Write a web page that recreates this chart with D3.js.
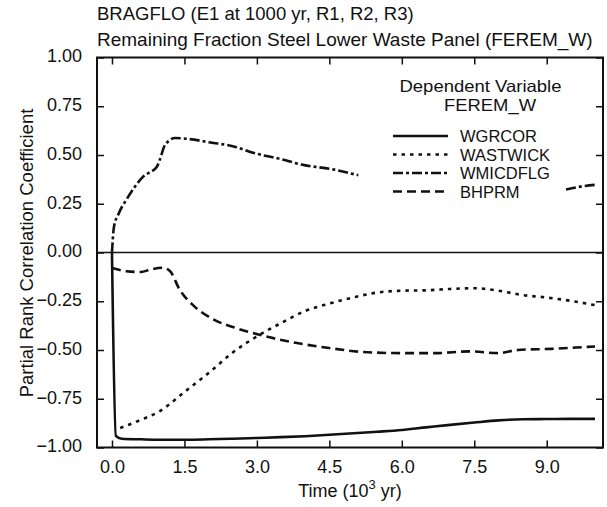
<!DOCTYPE html>
<html>
<head>
<meta charset="utf-8">
<script src="https://cdn.jsdelivr.net/npm/d3@7"></script>
<style>
    body { margin: 0; background: #fff; }
    text { font-family: "Liberation Sans", Arial, sans-serif; fill: #111; }
</style>
</head>
<body>
<div id="chart"></div>
<script>

// title lines and axis text
var titleLines = ["BRAGFLO (E1 at 1000 yr, R1, R2, R3)",
    "Remaining Fraction Steel Lower Waste Panel (FEREM_W)"];
var xTicks = [0, 1.5, 3.0, 4.5, 6.0, 7.5, 9.0];
var yTicks = [-1, -0.75, -0.5, -0.25, 0, 0.25, 0.5, 0.75, 1];
var legendHead = ["Dependent Variable", "FEREM_W"];
var seriesNames = ["WGRCOR", "WASTWICK", "WMICDFLG", "BHPRM"];

// time in 10^3 yr, value = PRCC
var timeWGRCOR = [0, 0.08, 0.2, 0.6, 1.0, 1.5, 2.0, 2.5, 3.0, 3.5, 4.0, 4.5, 5.0, 5.5, 6.0, 6.5, 7.0, 7.5, 8.0, 8.5, 9.0, 9.5, 10.0];
var valWGRCOR = [0, -0.94, -0.955, -0.958, -0.96, -0.96, -0.958, -0.955, -0.951, -0.947, -0.942, -0.935, -0.927, -0.919, -0.91, -0.897, -0.884, -0.872, -0.861, -0.855, -0.854, -0.853, -0.853];

var timeWASTWICK = [0.17, 0.6, 1.0, 1.5, 2.0, 2.5, 3.0, 3.5, 4.0, 4.5, 5.0, 5.5, 6.0, 6.5, 7.0, 7.5, 8.0, 8.5, 9.0, 9.5, 10.0];
var valWASTWICK = [-0.90, -0.858, -0.812, -0.715, -0.618, -0.513, -0.43, -0.362, -0.3, -0.262, -0.23, -0.205, -0.196, -0.194, -0.187, -0.183, -0.196, -0.218, -0.231, -0.248, -0.27];

// null = gap (curve hidden behind legend)
var timeWMICDFLG = [0, 0.04, 0.14, 0.31, 0.65, 0.93, 0.99, 1.1, 1.31, 1.55, 2.04, 2.52, 2.94, 3.5, 3.92, 4.6, 5.1, 7.2, 9.4, 9.75, 10.05];
var valWMICDFLG = [0, 0.13, 0.2, 0.275, 0.39, 0.44, 0.476, 0.552, 0.587, 0.583, 0.564, 0.544, 0.51, 0.479, 0.451, 0.425, 0.396, null, 0.323, 0.34, 0.348];

var timeBHPRM = [0, 0.3, 0.6, 0.8, 1.05, 1.2, 1.4, 1.7, 2.1, 2.6, 3.1, 3.8, 4.5, 5.2, 6.0, 6.7, 7.4, 8.0, 8.4, 9.1, 9.85, 10.0];
var valBHPRM = [-0.08, -0.096, -0.10, -0.087, -0.078, -0.095, -0.19, -0.275, -0.343, -0.39, -0.425, -0.463, -0.49, -0.51, -0.516, -0.516, -0.507, -0.516, -0.50, -0.494, -0.484, -0.482];


LineChart = function(_parentElement){
    this.parentElement = _parentElement;
    this.initVis();
}

LineChart.prototype.initVis = function() {
    var vis = this;

    vis.margin = {top: 57.5, right: 4, bottom: 59.5, left: 97};
    vis.width = 607 - vis.margin.left - vis.margin.right;
    vis.height = 507 - vis.margin.top - vis.margin.bottom;

    vis.svg = d3.select("#" + vis.parentElement).append("svg")
        .attr("width", 607)
        .attr("height", 507);

    vis.g = vis.svg.append("g")
        .attr("transform", "translate(" + vis.margin.left + "," + vis.margin.top + ")");

    vis.x = d3.scaleLinear()
        .domain([-0.31, 10.165])
        .range([0, vis.width]);

    vis.y = d3.scaleLinear()
        .domain([-1, 1])
        .range([vis.height, 0]);

    // titles
    vis.svg.selectAll(".title")
        .data(titleLines)
        .enter().append("text")
        .attr("class", "title")
        .attr("x", 97)
        .attr("y", function(d, i) { return 20 + i * 25.5; })
        .style("font-size", function(d, i) { return i == 0 ? "18.5px" : "19px"; })
        .text(function(d) { return d; });

    // axes, ticks pointing inward
    vis.g.append("g")
        .attr("class", "axis")
        .attr("transform", "translate(0," + vis.height + ")")
        .call(d3.axisBottom(vis.x).tickValues(xTicks).tickFormat(d3.format(".1f"))
            .tickSize(-7).tickPadding(13));

    vis.g.append("g")
        .attr("class", "axis")
        .call(d3.axisTop(vis.x).tickValues(xTicks).tickFormat("").tickSize(-7));

    vis.g.append("g")
        .attr("class", "axis")
        .call(d3.axisLeft(vis.y).tickValues(yTicks).tickFormat(d3.format(".2f"))
            .tickSize(-7).tickPadding(15));

    vis.g.append("g")
        .attr("class", "axis")
        .attr("transform", "translate(" + vis.width + ",0)")
        .call(d3.axisRight(vis.y).tickValues(yTicks).tickFormat("").tickSize(-7));

    vis.g.selectAll(".axis .domain").remove();
    vis.g.selectAll(".axis line").attr("stroke", "#111").attr("stroke-width", 1.5);
    vis.g.selectAll(".axis text")
        .style("font-size", "18px")
        .attr("font-family", null)
        .attr("fill", "#111");
    vis.g.selectAll(".axis text").filter(function() { return this.getAttribute("dy") == "0.32em"; })
        .attr("dy", "0.24em");

    // frame
    vis.g.append("rect")
        .attr("width", vis.width)
        .attr("height", vis.height)
        .attr("fill", "none")
        .attr("stroke", "#111")
        .attr("stroke-width", 2);

    // zero line
    vis.g.append("line")
        .attr("x1", 0)
        .attr("x2", vis.width)
        .attr("y1", vis.y(0))
        .attr("y2", vis.y(0))
        .attr("stroke", "#111")
        .attr("stroke-width", 1.5);

    // axis titles
    vis.svg.append("text")
        .attr("text-anchor", "middle")
        .attr("transform", "translate(33," + 253 + ") rotate(-90)")
        .style("font-size", "18.5px")
        .text("Partial Rank Correlation Coefficient");

    var xt = vis.svg.append("text")
        .attr("text-anchor", "middle")
        .attr("x", 350)
        .attr("y", 497)
        .style("font-size", "18px");
    xt.append("tspan").text("Time (10");
    xt.append("tspan").attr("dy", -8).style("font-size", "13px").text("3");
    xt.append("tspan").attr("dy", 8).text(" yr)");

    vis.dashes = ["none", "3.5,5", "10,3,3,3", "9,5"];
}

LineChart.prototype.updateVis = function(_series) {
    var vis = this;

    vis.line = d3.line()
        .defined(function(d) { return d.v !== null; })
        .curve(d3.curveMonotoneX)
        .x(function(d) { return vis.x(d.t); })
        .y(function(d) { return vis.y(d.v); });

    vis.g.selectAll(".series")
        .data(_series)
        .enter().append("path")
        .attr("class", "series")
        .attr("d", function(d) { return vis.line(d.values); })
        .attr("fill", "none")
        .attr("stroke", "#111")
        .attr("stroke-width", 2.6)
        .attr("stroke-dasharray", function(d, i) { return vis.dashes[i]; });

    // legend
    var leg = vis.svg.append("g");

    leg.selectAll(".head")
        .data(legendHead)
        .enter().append("text")
        .attr("class", "head")
        .attr("text-anchor", "middle")
        .attr("x", function(d, i) { return i == 0 ? 480.5 : 490; })
        .attr("y", function(d, i) { return 92 + i * 19; })
        .style("font-size", "16.5px")
        .attr("textLength", function(d, i) { return i == 0 ? 162 : 92; })
        .attr("lengthAdjust", "spacingAndGlyphs")
        .text(function(d) { return d; });

    var row = leg.selectAll(".row")
        .data(_series)
        .enter().append("g")
        .attr("class", "row")
        .attr("transform", function(d, i) { return "translate(0," + (136 + i * 18.5) + ")"; });

    row.append("line")
        .attr("x1", 393)
        .attr("x2", 448)
        .attr("stroke", "#111")
        .attr("stroke-width", 2.6)
        .attr("stroke-dasharray", function(d, i) { return vis.dashes[i]; });

    row.append("text")
        .attr("x", 460)
        .attr("y", 6)
        .style("font-size", "16.5px")
        .text(function(d) { return d.name; });
}

function zipSeries(t, v) {
    return t.map(function(d, i) { return {t: d, v: v[i]}; });
}

var series = [
    {name: seriesNames[0], values: zipSeries(timeWGRCOR, valWGRCOR)},
    {name: seriesNames[1], values: zipSeries(timeWASTWICK, valWASTWICK)},
    {name: seriesNames[2], values: zipSeries(timeWMICDFLG, valWMICDFLG)},
    {name: seriesNames[3], values: zipSeries(timeBHPRM, valBHPRM)}
];

var chart = new LineChart("chart");
chart.updateVis(series);

</script>
</body>
</html>
